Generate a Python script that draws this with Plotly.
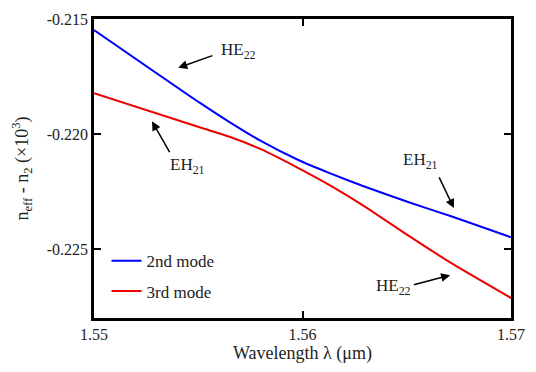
import plotly.graph_objects as go

wl = [1.5500, 1.5551, 1.5565, 1.5580, 1.5598, 1.5613, 1.5629, 1.5651, 1.5672, 1.5700]
neff_2nd = [-0.21548, -0.21866, -0.21948, -0.22030, -0.22113, -0.22170, -0.22226, -0.22297, -0.22360, -0.22449]
neff_3rd = [-0.21823, -0.21972, -0.22012, -0.22066, -0.22148, -0.22222, -0.22310, -0.22443, -0.22565, -0.22713]

x_ticks = [1.55, 1.56, 1.57]
y_ticks = [-0.215, -0.220, -0.225]

FONT = "Times New Roman, Liberation Serif, serif"

fig = go.Figure()
fig.add_trace(go.Scatter(x=wl, y=neff_2nd, mode="lines", name="2nd mode",
                         line=dict(color="#0000ff", width=2, shape="spline", smoothing=0.6),
                         legendgroup="a"))
fig.add_trace(go.Scatter(x=wl, y=neff_3rd, mode="lines", name="3rd mode",
                         line=dict(color="#ee0000", width=2, shape="spline", smoothing=0.6),
                         legendgroup="b"))

# labels: (text, text_x, text_y, tail_x, tail_y, head_x, head_y)
labels = [
    ("HE<sub>22</sub>", 1.55692, -0.21640, 1.55575, -0.21657, 1.55404, -0.21712),
    ("EH<sub>21</sub>", 1.55450, -0.22140, 1.55367, -0.22085, 1.55278, -0.21945),
    ("EH<sub>21</sub>", 1.56564, -0.22119, 1.56652, -0.22182, 1.56726, -0.22322),
    ("HE<sub>22</sub>", 1.56438, -0.22665, 1.56527, -0.22657, 1.56708, -0.22614),
]
for t, tx, ty, ax_, ay_, hx, hy in labels:
    fig.add_annotation(x=hx, y=hy, ax=ax_, ay=ay_, xref="x", yref="y", axref="x", ayref="y",
                       text="", showarrow=True, arrowhead=2, arrowsize=1.2, arrowwidth=1.5,
                       arrowcolor="black", standoff=0, startstandoff=0)
    fig.add_annotation(x=tx, y=ty, xref="x", yref="y", text=t, showarrow=False,
                       font=dict(family=FONT, size=17, color="#222"))

axis_common = dict(showgrid=False, zeroline=False, showline=True, linecolor="black",
                   linewidth=2.5, mirror="ticks", ticks="inside", ticklen=7, tickwidth=2,
                   tickcolor="black", tickfont=dict(family=FONT, size=16, color="#222"))

fig.update_xaxes(range=[1.55, 1.57], tickvals=x_ticks, ticktext=[f"{v:.2f}" for v in x_ticks],
                 title=dict(text="Wavelength λ (μm)", font=dict(family=FONT, size=18, color="#222"),
                            standoff=4),
                 **axis_common)
fig.update_yaxes(range=[-0.228, -0.215], tickvals=y_ticks, ticktext=[f"{v:.3f}" for v in y_ticks],
                 title=dict(text="n<sub>eff</sub> - n<sub>2</sub> (×10<sup>3</sup>)",
                            font=dict(family=FONT, size=18, color="#222"), standoff=14),
                 **axis_common)

fig.update_layout(
    width=536, height=372,
    margin=dict(l=94, r=11, t=12, b=54),
    plot_bgcolor="white", paper_bgcolor="white",
    font=dict(family=FONT, color="#222"),
    legend=dict(x=0.03, y=0.25, xanchor="left", yanchor="top", bgcolor="rgba(0,0,0,0)",
                font=dict(family=FONT, size=17, color="#222"), tracegroupgap=5),
)

fig.write_html("out.html")
